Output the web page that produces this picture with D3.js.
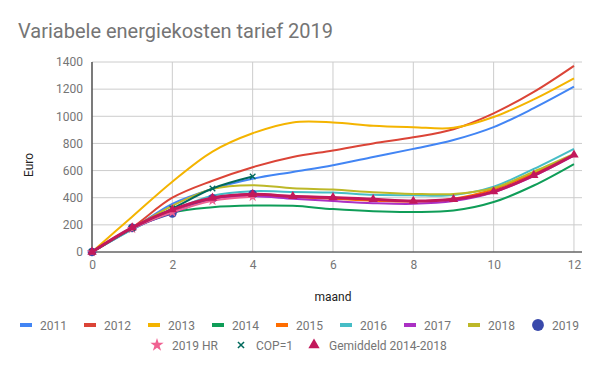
<!DOCTYPE html>
<html>
<head>
<meta charset="UTF-8">
<title>Variabele energiekosten tarief 2019</title>
<script src="https://d3js.org/d3.v7.min.js"></script>
<style>
  body { margin: 0; background: #fff; }
  text { font-family: Roboto, "Noto Sans", sans-serif; }
</style>
</head>
<body>
<script>
var w = 600, h = 371;

var months = [0,1,2,3,4,5,6,7,8,9,10,11,12];
var yTicks = [0,200,400,600,800,1000,1200,1400];
var xTicks = [0,2,4,6,8,10,12];

// one array per series (euro per month index)
var s2011 = [0,170,355,465,540,590,640,700,760,825,920,1060,1218];
var s2012 = [0,180,400,525,625,700,748,800,845,905,1022,1180,1372];
var s2013 = [0,260,518,740,875,955,955,930,920,915,995,1125,1280];
var s2014 = [0,168,290,330,342,340,316,300,295,305,368,490,648];
var s2015 = [0,175,300,400,420,405,392,378,372,392,462,580,720];
var s2016 = [0,165,305,415,448,442,438,422,418,420,482,612,760];
var s2017 = [0,170,292,390,410,392,375,360,355,375,440,560,710];
var s2018 = [0,175,340,465,492,470,460,440,428,428,472,592,722];
var s2019 = [0,178,285,395,427];
var s2019hr = [0,172,292,378,408];
var sCop = [0,175,320,468,556];
var sAvg = [0,180,312,398,425,410,402,388,375,388,445,566,716];

var names = ["2011","2012","2013","2014","2015","2016","2017","2018","2019","2019 HR","COP=1","Gemiddeld 2014-2018"];
var values = [s2011,s2012,s2013,s2014,s2015,s2016,s2017,s2018,s2019,s2019hr,sCop,sAvg];
var colors = ["#4285F4","#DB4437","#F4B400","#0F9D58","#FF6D00","#46BDC6","#AB30C4","#BDB828","#3949AB","#F06292","#00695C","#C2185B"];
var markers = [null,null,null,null,null,null,null,null,"circle","star","cross","triangle"];

var svg = d3.select("body").append("svg").attr("width", w).attr("height", h);

var x = d3.scaleLinear().domain([0, 12.2]).range([92, 582]);
var y = d3.scaleLinear().domain([0, 1400]).range([252, 62]);

// title
svg.append("text").attr("x", 18).attr("y", 38)
  .attr("font-size", 20).attr("fill", "#757575")
  .text("Variabele energiekosten tarief 2019");

// grid
svg.append("g").selectAll("line.h").data(yTicks).enter().append("line")
  .attr("x1", x(0)).attr("x2", x(12.2))
  .attr("y1", function(d){ return y(d); }).attr("y2", function(d){ return y(d); })
  .attr("stroke", "#cccccc").attr("stroke-width", 1);
svg.append("g").selectAll("line.v").data(xTicks).enter().append("line")
  .attr("x1", function(d){ return x(d); }).attr("x2", function(d){ return x(d); })
  .attr("y1", y(1400)).attr("y2", y(0))
  .attr("stroke", "#cccccc").attr("stroke-width", 1);

// axes via d3 (lines hidden, labels kept)
var yAxis = svg.append("g").attr("transform", "translate(" + x(0) + ",0)")
  .call(d3.axisLeft(y).tickValues(yTicks).tickFormat(d3.format("d")).tickSize(0).tickPadding(9));
var xAxis = svg.append("g").attr("transform", "translate(0," + y(0) + ")")
  .call(d3.axisBottom(x).tickValues(xTicks).tickFormat(d3.format("d")).tickSize(0).tickPadding(8));
[yAxis, xAxis].forEach(function(a){
  a.select(".domain").remove();
  a.selectAll("text").attr("font-size", 12).attr("fill", "#757575")
    .attr("font-family", "Roboto, sans-serif");
});

// baselines
svg.append("line").attr("x1", x(0)).attr("x2", x(12.2)).attr("y1", y(0)).attr("y2", y(0))
  .attr("stroke", "#333").attr("stroke-width", 1.2);
svg.append("line").attr("x1", x(0)).attr("x2", x(0)).attr("y1", y(1400)).attr("y2", y(0))
  .attr("stroke", "#333").attr("stroke-width", 1.2);

// axis titles
svg.append("text").attr("transform", "translate(33,165) rotate(-90)")
  .attr("text-anchor", "middle").attr("font-size", 12).attr("fill", "#222")
  .text("Euro");
svg.append("text").attr("x", 333).attr("y", 301)
  .attr("text-anchor", "middle").attr("font-size", 12).attr("fill", "#222")
  .text("maand");

var line = d3.line()
  .x(function(d, i){ return x(months[i]); })
  .y(function(d){ return y(d); })
  .curve(d3.curveCatmullRom.alpha(0.5));

function markerPath(type, size) {
  if (type == "circle") return d3.symbol(d3.symbolCircle, size)();
  if (type == "star") return d3.symbol(d3.symbolStar, size)();
  if (type == "cross") return d3.symbol(d3.symbolX, size)();
  if (type == "triangle") return d3.symbol(d3.symbolTriangle, size)();
  return null;
}

values.forEach(function(vals, k){
  var g = svg.append("g");
  g.append("path").datum(vals)
    .attr("d", line)
    .attr("fill", "none")
    .attr("stroke", colors[k])
    .attr("stroke-width", k == 11 ? 3 : 2)
    .attr("stroke-linejoin", "round");
  if (markers[k]) {
    var sz = {circle: 60, star: 35, cross: 22, triangle: 38}[markers[k]];
    g.selectAll("path.m").data(vals).enter().append("path")
      .attr("class", "m")
      .attr("d", markerPath(markers[k], sz))
      .attr("transform", function(d, i){ return "translate(" + x(months[i]) + "," + y(d) + ")"; })
      .attr("fill", colors[k])
      .attr("stroke", markers[k] == "cross" ? colors[k] : "none")
      .attr("stroke-width", 1.3);
  }
});

// legend
var row1 = names.slice(0, 9);
var row2 = names.slice(9);
var leg = svg.append("g").attr("font-size", 12);

row1.forEach(function(n, i){
  var lx = 20 + i * 64, ly = 325;
  if (markers[i]) {
    leg.append("path").attr("d", markerPath(markers[i], 110))
      .attr("transform", "translate(" + (lx + 6) + "," + ly + ")")
      .attr("fill", colors[i]);
  } else {
    leg.append("rect").attr("x", lx).attr("y", ly - 2).attr("width", 12).attr("height", 4)
      .attr("fill", colors[i]);
  }
  leg.append("text").attr("x", lx + 20).attr("y", ly + 4.5).attr("fill", "#757575").text(n);
});

var row2x = [152, 236, 309];
var legSz = {star: 55, cross: 26, triangle: 55};
row2.forEach(function(n, j){
  var k = 9 + j, lx = row2x[j], ly = 345;
  leg.append("path").attr("d", markerPath(markers[k], legSz[markers[k]]))
    .attr("transform", "translate(" + (lx + 5) + "," + ly + ")")
    .attr("fill", colors[k])
    .attr("stroke", markers[k] == "cross" ? colors[k] : "none")
    .attr("stroke-width", 1.5);
  leg.append("text").attr("x", lx + 20).attr("y", ly + 4.5).attr("fill", "#757575").text(n);
});
</script>
</body>
</html>
